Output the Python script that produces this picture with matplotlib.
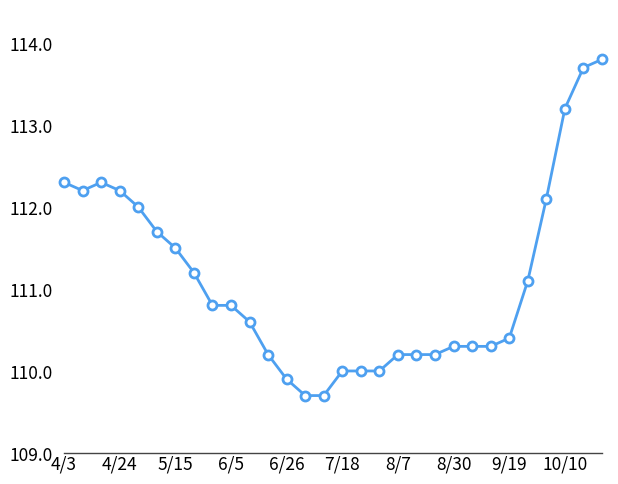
import matplotlib
matplotlib.use("Agg")
from matplotlib import pyplot as plt

# weekly values, one label every third point
labels = ["4/3", "4/24", "5/15", "6/5", "6/26", "7/18", "8/7", "8/30", "9/19", "10/10"]
values = [112.3, 112.2, 112.3, 112.2, 112.0, 111.7, 111.5, 111.2, 110.8, 110.8,
          110.6, 110.2, 109.9, 109.7, 109.7, 110.0, 110.0, 110.0, 110.2, 110.2,
          110.2, 110.3, 110.3, 110.3, 110.4, 111.1, 112.1, 113.2, 113.7, 113.8]
y_ticks = [109.0, 110.0, 111.0, 112.0, 113.0, 114.0]

plt.rcParams['font.family'] = ['Noto Sans CJK JP', 'DejaVu Sans']

fig = plt.figure(figsize=(6.18, 4.85), dpi=100)
ax = fig.add_axes([0.1036, 0.064, 0.8705, 0.896])

x = list(range(len(values)))
ax.plot(x, values, color='#4ea0f0', linewidth=2.0, marker='o', markersize=6.5,
        markerfacecolor='white', markeredgecolor='#4ea0f0', markeredgewidth=2.0,
        clip_on=False, zorder=3)

ax.set_xlim(0, len(values) - 1)
ax.set_ylim(109, 114.3)
ax.set_yticks(y_ticks)
ax.set_yticklabels(["%.1f" % v for v in y_ticks])
ax.set_xticks(range(0, len(values), 3))
ax.set_xticklabels(labels)

for side in ['top', 'right', 'left']:
    ax.spines[side].set_visible(False)
ax.spines['bottom'].set_color('#444444')
ax.spines['bottom'].set_linewidth(1.0)
ax.tick_params(axis='both', length=0, labelsize=12.5, colors='black')
ax.tick_params(axis='y', pad=8)
ax.tick_params(axis='x', pad=1)

fig.savefig("out.png", dpi=100)
